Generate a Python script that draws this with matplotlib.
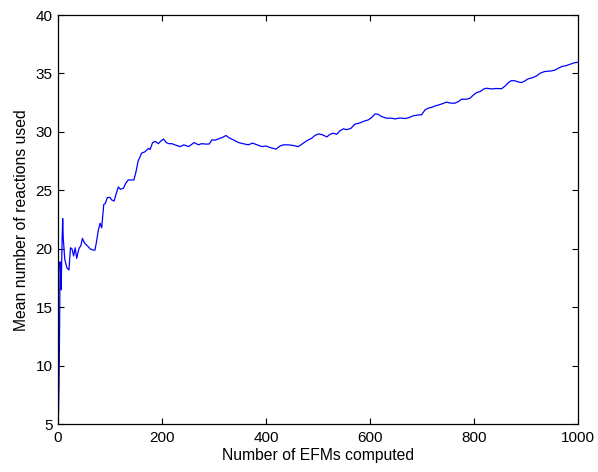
import numpy as np
import matplotlib
matplotlib.use("Agg")
import matplotlib.pyplot as plt

plt.rcParams['font.family'] = ['Liberation Sans', 'DejaVu Sans']

# values
efms = [1, 2, 3, 4, 5, 6, 7, 8, 9, 10, 13, 17, 21, 24, 27, 30, 33, 36, 40, 44,
        47, 51, 58, 62, 68, 71, 74, 77.5, 81, 84, 88, 91, 95, 100, 103, 108, 111,
        116, 120, 126, 130, 135, 142, 146, 150, 154, 158, 161, 167, 174, 177, 182,
        187, 193, 197, 203, 208, 213, 219, 225, 231, 235, 242, 251, 262, 270, 276,
        286, 291, 296, 302, 308, 317, 323, 329, 337, 347, 356, 366, 374, 383, 392,
        400, 408, 414, 419, 427, 433, 443, 452, 462, 469, 478, 488, 494, 501, 509,
        517, 523, 529, 536, 542, 549, 555, 563, 571, 581, 587, 597, 603, 610, 616,
        622, 632, 641, 648, 658, 667, 673, 683, 693, 699, 706, 712, 718, 725, 731,
        738, 747, 755, 763, 770, 776, 785, 792, 799, 805, 812, 818, 824, 834, 843,
        853, 860, 866, 872, 879, 885, 891, 898, 904, 913, 920, 927, 935, 943, 949,
        956, 962, 969, 977, 985, 994, 1000]
mean_reac = [6.0, 8.5, 13.0, 18.9, 18.0, 16.5, 19.0, 21.0, 22.6, 21.0, 19.1, 18.4,
             18.2, 20.1, 20.0, 19.4, 20.1, 19.2, 20.0, 20.3, 20.9, 20.5, 20.2, 20.0,
             19.9, 19.9, 20.6, 21.6, 22.2, 21.8, 23.8, 23.9, 24.4, 24.4, 24.2, 24.1,
             24.6, 25.3, 25.1, 25.2, 25.6, 25.9, 25.9, 25.9, 26.6, 27.5, 27.9, 28.2,
             28.3, 28.6, 28.5, 29.1, 29.2, 29.0, 29.2, 29.4, 29.1, 29.0, 29.0, 28.9,
             28.8, 28.75, 28.9, 28.75, 29.1, 28.9, 29.0, 28.96, 28.98, 29.33, 29.3,
             29.4, 29.55, 29.7, 29.5, 29.33, 29.1, 29.0, 28.9, 29.05, 28.9, 28.75,
             28.8, 28.67, 28.6, 28.53, 28.8, 28.9, 28.9, 28.85, 28.75, 28.96, 29.24,
             29.47, 29.7, 29.84, 29.75, 29.58, 29.8, 29.9, 29.8, 30.1, 30.27, 30.2,
             30.3, 30.67, 30.78, 30.9, 31.04, 31.23, 31.55, 31.5, 31.32, 31.18, 31.18,
             31.12, 31.2, 31.15, 31.2, 31.38, 31.46, 31.46, 31.9, 32.04, 32.1, 32.23,
             32.3, 32.4, 32.55, 32.47, 32.46, 32.6, 32.8, 32.8, 32.88, 33.17, 33.37,
             33.46, 33.66, 33.74, 33.68, 33.72, 33.7, 33.94, 34.22, 34.39, 34.37,
             34.28, 34.22, 34.37, 34.54, 34.65, 34.79, 35.02, 35.16, 35.2, 35.22,
             35.3, 35.45, 35.6, 35.67, 35.79, 35.93, 35.95]

fig = plt.figure(figsize=(5.98, 4.72), dpi=100)
ax = fig.add_axes([0.097, 0.1008, 0.8696, 0.8674])
ax.plot(efms, mean_reac, color=(0, 0, 1), lw=0.9)

ax.set_xlim(0, 1000)
ax.set_ylim(5, 40)
ax.set_xticks(np.arange(0, 1001, 200))
ax.set_yticks(np.arange(5, 41, 5))
ax.tick_params(direction="in", top=True, right=True, length=4, width=0.8,
               labelsize=11)
ax.tick_params(axis="x", pad=5)
ax.tick_params(axis="y", pad=4)
for s in ax.spines.values():
    s.set_linewidth(0.9)
ax.set_xlabel("Number of EFMs computed", fontsize=11.3, labelpad=2)
ax.set_ylabel("Mean number of reactions used", fontsize=11.3, labelpad=5)

fig.savefig("out.png", dpi=100)
